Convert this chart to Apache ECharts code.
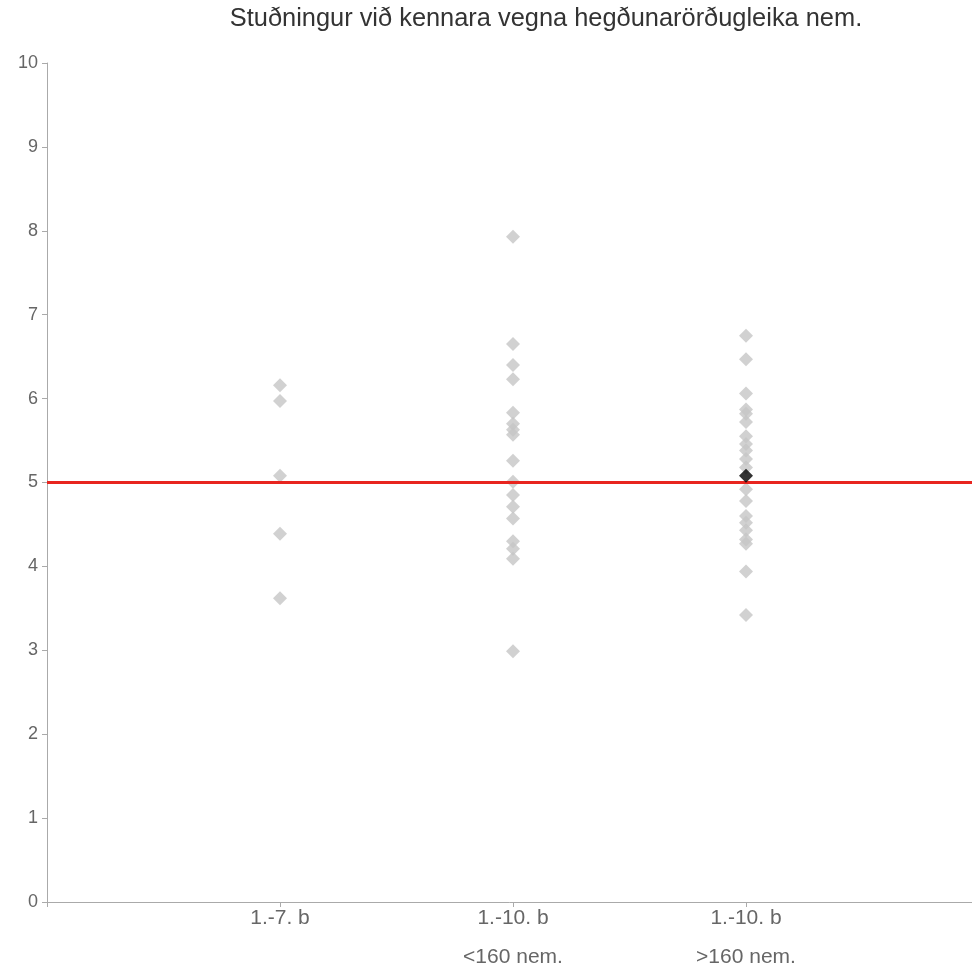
<!DOCTYPE html>
<html>
<head>
<meta charset="utf-8">
<script src="https://cdn.jsdelivr.net/npm/echarts@6/dist/echarts.min.js"></script>
<style>html,body{margin:0;padding:0;background:#fff}#c{width:972px;height:968px}</style>
</head>
<body>
<div id="c"></div>
<script>
const titleText = 'Stuðningur við kennara vegna hegðunarörðugleika nem.';
const categories = ['', '1.-7. b', '1.-10. b\n<160 nem.', '1.-10. b\n>160 nem.', ''];
const yTicks = [0,1,2,3,4,5,6,7,8,9,10];
const group1 = [6.16, 5.97, 5.08, 4.39, 3.62];
const group2 = [7.93, 6.65, 6.40, 6.23, 5.83, 5.70, 5.63, 5.57, 5.26, 5.01, 4.85, 4.71, 4.57, 4.30, 4.21, 4.09, 2.99];
const group3 = [6.75, 6.47, 6.06, 5.87, 5.82, 5.72, 5.55, 5.46, 5.38, 5.28, 5.18, 4.92, 4.78, 4.60, 4.52, 4.43, 4.32, 4.27, 3.94, 3.42];
const highlight = [[3, 5.08]];
const referenceValue = 5;

const greyData = [];
group1.forEach(v => greyData.push([1, v]));
group2.forEach(v => greyData.push([2, v]));
group3.forEach(v => greyData.push([3, v]));

const chart = echarts.init(document.getElementById('c'));
chart.setOption({
  animation: false,
  textStyle: { fontFamily: 'Liberation Sans, Arial, sans-serif' },
  title: {
    text: titleText,
    left: 541, top: 1, textAlign: 'center',
    textStyle: { fontSize: 25.4, fontWeight: 'normal', color: '#333' }
  },
  grid: { left: 47, right: -7, top: 63, bottom: 66, outerBoundsMode: 'none', containLabel: false },
  xAxis: {
    type: 'category',
    data: categories,
    boundaryGap: false,
    axisLine: { lineStyle: { color: '#aaa', width: 1 } },
    axisTick: { show: true, interval: 0, length: 5, lineStyle: { color: '#aaa' } },
    axisLabel: { interval: 0, color: '#666', fontSize: 21, lineHeight: 39, margin: -3 },
    splitLine: { show: false }
  },
  yAxis: {
    type: 'value',
    min: yTicks[0], max: yTicks[yTicks.length - 1], interval: 1,
    axisLine: { show: true, lineStyle: { color: '#aaa', width: 1 } },
    axisTick: { show: true, length: 5, lineStyle: { color: '#aaa' } },
    axisLabel: { color: '#666', fontSize: 18, margin: 9 },
    splitLine: { show: false }
  },
  series: [
    {
      type: 'scatter',
      symbol: 'diamond',
      symbolSize: 14,
      itemStyle: { color: '#c6c6c6' },
      data: greyData,
      z: 2,
      markLine: {
        silent: true,
        symbol: 'none',
        label: { show: false },
        lineStyle: { color: '#e8251f', width: 3, type: 'solid' },
        data: [{ yAxis: referenceValue }]
      }
    },
    {
      type: 'scatter',
      symbol: 'diamond',
      symbolSize: 14,
      itemStyle: { color: '#000' },
      data: highlight,
      z: 5
    }
  ]
});
</script>
</body>
</html>
